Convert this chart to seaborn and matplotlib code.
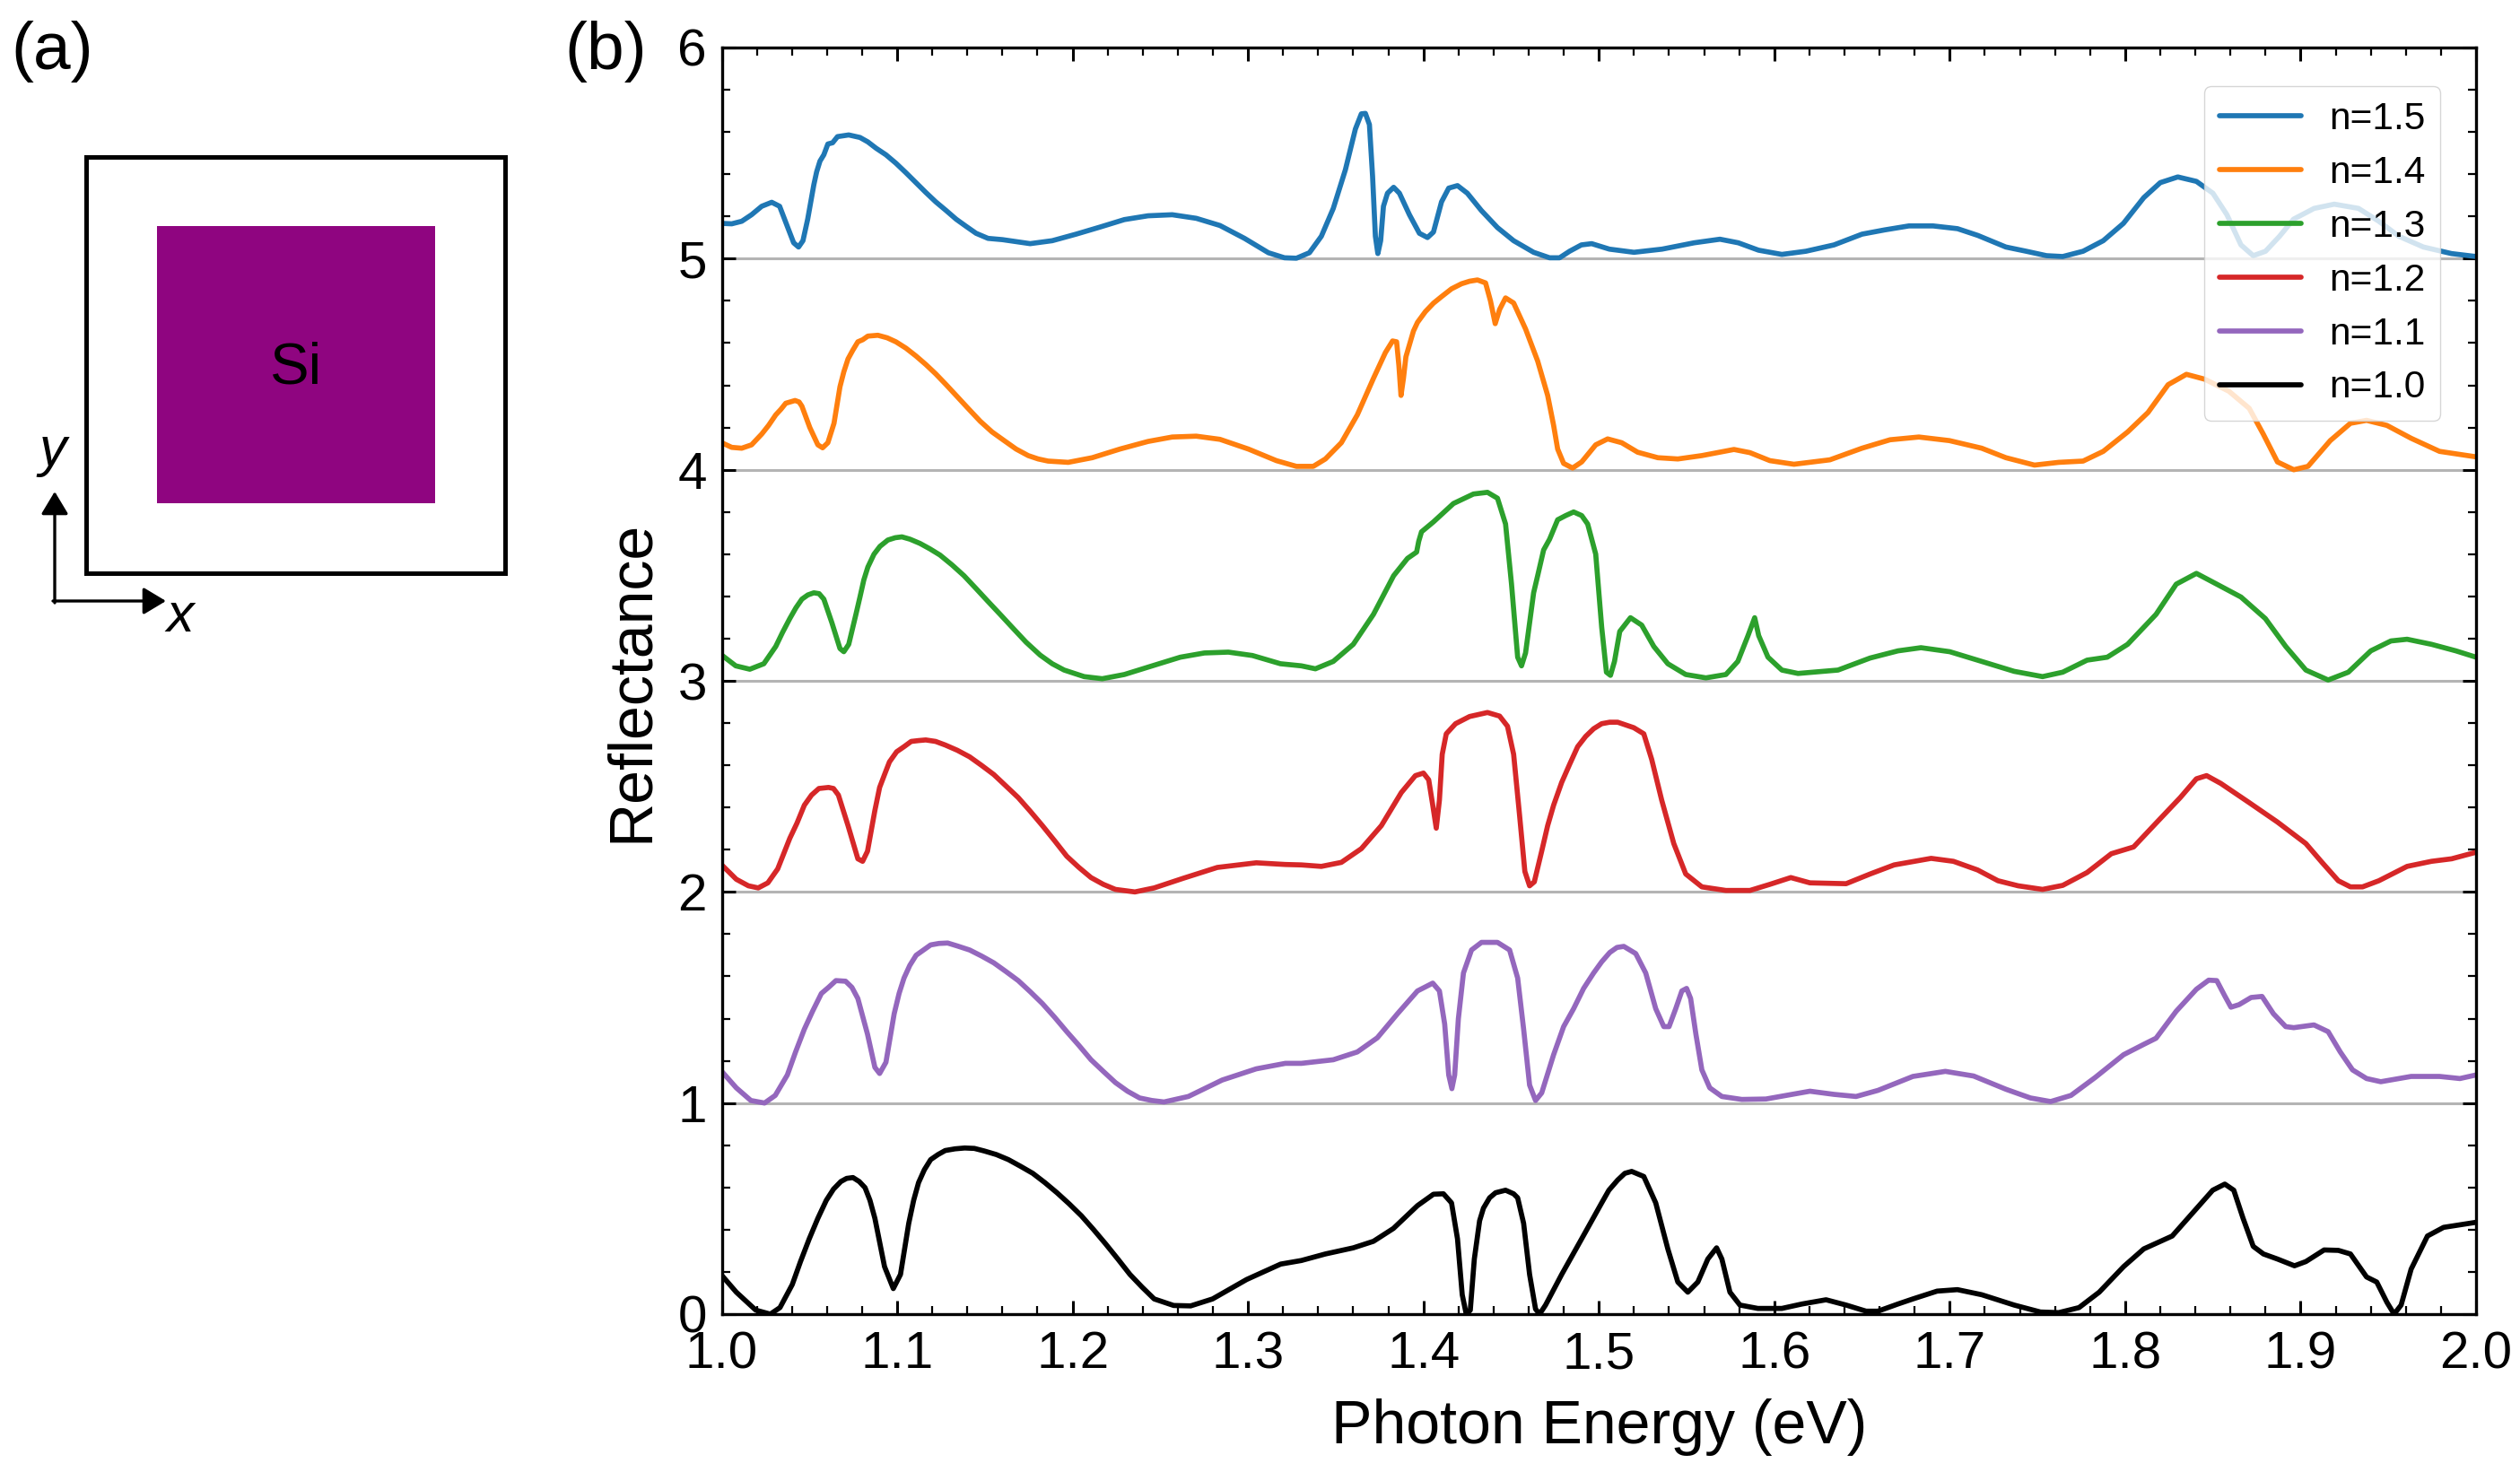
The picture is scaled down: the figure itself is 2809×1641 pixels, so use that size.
# -*- coding: utf-8 -*-
import matplotlib
matplotlib.use('Agg')
import matplotlib.pyplot as plt
import numpy as np
import pandas as pd
import seaborn as sns
from matplotlib.patches import Rectangle
from matplotlib.ticker import MultipleLocator

# values (curves are stacked, offset by 1 each)
e15 = [1.0, 1.0057, 1.0114, 1.017, 1.0228, 1.0285, 1.033, 1.0377, 1.041, 1.0438, 1.0463, 1.049, 1.0525, 1.056,
       1.0605, 1.066, 1.0724, 1.0788, 1.088, 1.0993, 1.1107, 1.122, 1.1336, 1.145, 1.16, 1.1758, 1.1884, 1.202,
       1.2158, 1.2295, 1.243, 1.2568, 1.2705, 1.284, 1.298, 1.3116, 1.3208, 1.3276, 1.335, 1.3418, 1.3486, 1.3555,
       1.3612, 1.3646, 1.3669, 1.3692, 1.371, 1.3726, 1.374, 1.3756, 1.3772, 1.3795, 1.383, 1.3863, 1.392, 1.3977,
       1.4023, 1.4057, 1.4103, 1.4144, 1.4194, 1.425, 1.433, 1.4422, 1.4514, 1.4628, 1.4719, 1.4776, 1.4833, 1.49,
       1.4959, 1.506, 1.52, 1.536, 1.5543, 1.569, 1.5795, 1.591, 1.6043, 1.618, 1.634, 1.65, 1.6628, 1.6767,
       1.6905, 1.7044, 1.716, 1.732, 1.7436, 1.7552, 1.7644, 1.776, 1.7875, 1.799, 1.8106, 1.82, 1.83, 1.8406,
       1.85, 1.858, 1.866, 1.873, 1.88, 1.888, 1.896, 1.9077, 1.9192, 1.933, 1.9446, 1.956, 1.97, 1.986, 2.0,
       1.0541, 1.0582, 1.0632, 1.0692, 1.0833, 1.0936, 1.105, 1.1164, 1.1279, 1.1393, 1.1518]
r15 = [5.167, 5.165, 5.177, 5.208, 5.248, 5.267, 5.248, 5.146, 5.075, 5.055, 5.085, 5.187, 5.35, 5.462,
       5.543, 5.578, 5.586, 5.574, 5.523, 5.452, 5.36, 5.269, 5.187, 5.12, 5.09, 5.071, 5.085, 5.116,
       5.15, 5.185, 5.203, 5.208, 5.191, 5.157, 5.096, 5.028, 5.004, 5.002, 5.028, 5.106, 5.238, 5.421,
       5.614, 5.686, 5.688, 5.635, 5.39, 5.106, 5.024, 5.085, 5.248, 5.31, 5.338, 5.31, 5.208, 5.12,
       5.1, 5.126, 5.269, 5.334, 5.346, 5.31, 5.228, 5.147, 5.085, 5.03, 5.004, 5.004, 5.035, 5.065,
       5.071, 5.045, 5.03, 5.045, 5.075, 5.092, 5.075, 5.04, 5.02, 5.035, 5.065, 5.116, 5.136, 5.155,
       5.155, 5.142, 5.11, 5.055, 5.035, 5.014, 5.01, 5.035, 5.085, 5.167, 5.289, 5.36, 5.387, 5.366,
       5.31, 5.208, 5.065, 5.014, 5.035, 5.106, 5.187, 5.238, 5.258, 5.238, 5.177, 5.106, 5.055, 5.024, 5.01,
       5.411, 5.492, 5.549, 5.582, 5.553, 5.492, 5.407, 5.313, 5.228, 5.153, 5.096]

e14 = [1.0, 1.0057, 1.0114, 1.017, 1.0228, 1.0308, 1.0365, 1.0418, 1.0457, 1.0502, 1.0548, 1.0575, 1.0605, 1.064,
       1.0674, 1.072, 1.0776, 1.0833, 1.089, 1.0993, 1.1107, 1.122, 1.1336, 1.1473, 1.161, 1.1747, 1.186, 1.1975,
       1.2112, 1.227, 1.243, 1.2568, 1.2705, 1.284, 1.3002, 1.3162, 1.3276, 1.3372, 1.3441, 1.3532, 1.3623, 1.3715,
       1.3783, 1.3824, 1.3847, 1.386, 1.3872, 1.3886, 1.39, 1.3943, 1.4011, 1.4103, 1.4217, 1.4308, 1.4354, 1.4382,
       1.4409, 1.4434, 1.4468, 1.4514, 1.4582, 1.4651, 1.4708, 1.4742, 1.4765, 1.4799, 1.485, 1.4902, 1.4982, 1.505,
       1.513, 1.5221, 1.5336, 1.545, 1.5587, 1.577, 1.5861, 1.5975, 1.6112, 1.6317, 1.65, 1.666, 1.6824, 1.6998,
       1.7182, 1.732, 1.7483, 1.7621, 1.776, 1.7875, 1.8014, 1.813, 1.8245, 1.8349, 1.8453, 1.8591, 1.8707, 1.8787,
       1.8868, 1.8961, 1.9042, 1.9169, 1.9284, 1.9376, 1.9492, 1.963, 1.9792, 2.0,
       1.0267, 1.0338, 1.0441, 1.0662, 1.0696, 1.0747, 1.0804, 1.0943, 1.105, 1.1164, 1.1279, 1.1404, 1.1541, 1.1678,
       1.1804, 1.3966, 1.4057, 1.416, 1.4263]
r14 = [4.128, 4.106, 4.102, 4.118, 4.169, 4.26, 4.315, 4.328, 4.301, 4.2, 4.118, 4.104, 4.128, 4.22,
       4.393, 4.525, 4.606, 4.633, 4.637, 4.606, 4.539, 4.454, 4.352, 4.23, 4.138, 4.067, 4.041, 4.035,
       4.057, 4.098, 4.134, 4.155, 4.159, 4.144, 4.098, 4.043, 4.016, 4.016, 4.051, 4.128, 4.26, 4.433,
       4.555, 4.61, 4.606, 4.494, 4.352, 4.433, 4.535, 4.657, 4.749, 4.82, 4.881, 4.899, 4.885, 4.8,
       4.692, 4.759, 4.814, 4.79, 4.667, 4.515, 4.352, 4.21, 4.098, 4.03, 4.008, 4.037, 4.118, 4.146,
       4.128, 4.083, 4.057, 4.051, 4.067, 4.096, 4.081, 4.043, 4.026, 4.047, 4.102, 4.142, 4.155, 4.138,
       4.102, 4.057, 4.022, 4.035, 4.041, 4.087, 4.179, 4.271, 4.403, 4.452, 4.429, 4.372, 4.291, 4.169,
       4.037, 4.0, 4.016, 4.138, 4.22, 4.234, 4.21, 4.149, 4.087, 4.061,
       4.21, 4.287, 4.321, 4.332, 4.464, 4.566, 4.616, 4.625, 4.576, 4.498, 4.403, 4.291, 4.179, 4.098,
       4.051, 4.698, 4.789, 4.857, 4.893]

e13 = [1.0, 1.008, 1.016, 1.024, 1.0308, 1.0388, 1.0457, 1.0525, 1.0582, 1.0628, 1.0674, 1.0696, 1.0724, 1.0765,
       1.081, 1.0868, 1.0947, 1.1027, 1.113, 1.1244, 1.1381, 1.1518, 1.1655, 1.1815, 1.1952, 1.2066, 1.2169, 1.2295,
       1.2454, 1.2614, 1.2751, 1.2888, 1.3025, 1.3185, 1.3304, 1.3384, 1.3486, 1.36, 1.3715, 1.383, 1.3909, 1.3961,
       1.3973, 1.3989, 1.4057, 1.4171, 1.4285, 1.4365, 1.4422, 1.4468, 1.4502, 1.4537, 1.4559, 1.4582, 1.4628, 1.4685,
       1.4765, 1.4856, 1.4936, 1.4982, 1.5016, 1.5043, 1.5066, 1.5089, 1.5119, 1.518, 1.5244, 1.5313, 1.5393, 1.5495,
       1.561, 1.5724, 1.5792, 1.585, 1.5888, 1.5911, 1.5964, 1.6043, 1.6135, 1.6363, 1.6546, 1.6705, 1.6836, 1.7,
       1.7182, 1.7367, 1.7529, 1.7644, 1.7783, 1.7898, 1.8014, 1.8176, 1.8291, 1.8406, 1.8522, 1.866, 1.8799, 1.8915,
       1.903, 1.9157, 1.9272, 1.94, 1.9515, 1.9607, 1.9746, 1.9885, 2.0,
       1.0347, 1.0423, 1.0491, 1.0555, 1.0788, 1.0833, 1.0902, 1.0989, 1.1073, 1.1187, 1.1313, 1.145, 1.1587, 1.1735,
       1.1884, 1.4651, 1.4719, 1.4811, 1.4902]
r13 = [3.122, 3.071, 3.055, 3.081, 3.163, 3.295, 3.387, 3.417, 3.387, 3.275, 3.153, 3.138, 3.173, 3.315,
       3.478, 3.6, 3.667, 3.682, 3.651, 3.596, 3.498, 3.376, 3.254, 3.122, 3.051, 3.02, 3.01, 3.03,
       3.071, 3.112, 3.132, 3.136, 3.12, 3.081, 3.071, 3.057, 3.092, 3.173, 3.315, 3.498, 3.58, 3.61,
       3.661, 3.706, 3.753, 3.84, 3.885, 3.893, 3.865, 3.743, 3.458, 3.112, 3.071, 3.132, 3.417, 3.62,
       3.763, 3.8, 3.743, 3.6, 3.254, 3.041, 3.026, 3.092, 3.234, 3.299, 3.264, 3.163, 3.081, 3.03,
       3.014, 3.03, 3.092, 3.214, 3.299, 3.214, 3.112, 3.051, 3.035, 3.051, 3.108, 3.142, 3.157, 3.138,
       3.092, 3.045, 3.02, 3.041, 3.098, 3.112, 3.173, 3.315, 3.458, 3.509, 3.458, 3.397, 3.295, 3.163,
       3.051, 3.004, 3.041, 3.142, 3.189, 3.197, 3.173, 3.142, 3.112,
       3.23, 3.346, 3.407, 3.413, 3.397, 3.539, 3.637, 3.678, 3.671, 3.625, 3.549, 3.437, 3.315, 3.183,
       3.081, 3.498, 3.671, 3.783, 3.783]

e12 = [1.0, 1.0083, 1.0152, 1.0208, 1.0263, 1.0319, 1.0388, 1.0471, 1.0554, 1.0609, 1.0665, 1.072, 1.0776, 1.0803,
       1.0831, 1.0873, 1.0928, 1.0997, 1.108, 1.1163, 1.1274, 1.1413, 1.1551, 1.169, 1.1828, 1.1967, 1.2105, 1.2244,
       1.2355, 1.2465, 1.2632, 1.2825, 1.3047, 1.3213, 1.3304, 1.3418, 1.3532, 1.3646, 1.376, 1.3874, 1.3954, 1.4,
       1.403, 1.4053, 1.4073, 1.4091, 1.4107, 1.413, 1.4183, 1.4263, 1.4365, 1.4434, 1.4479, 1.4514, 1.4548, 1.4578,
       1.4605, 1.4632, 1.4674, 1.4742, 1.4833, 1.4925, 1.5016, 1.5107, 1.5199, 1.5256, 1.5301, 1.5358, 1.5427, 1.5495,
       1.5587, 1.5724, 1.5861, 1.5975, 1.6094, 1.6203, 1.6409, 1.6546, 1.6683, 1.6894, 1.7021, 1.7159, 1.7275, 1.739,
       1.7529, 1.7644, 1.7783, 1.7921, 1.8048, 1.8176, 1.8314, 1.8406, 1.8464, 1.8545, 1.8707, 1.8868, 1.903, 1.9122,
       1.9215, 1.9284, 1.9353, 1.9446, 1.9607, 1.9746, 1.9861, 2.0,
       1.0429, 1.0512, 1.0637, 1.09, 1.0956, 1.1039, 1.1122, 1.1219, 1.1343, 1.1482, 1.162, 1.1759, 1.1898, 1.2036,
       1.2175, 1.4708, 1.4788, 1.4879, 1.497, 1.5062]
r12 = [2.128, 2.06, 2.029, 2.019, 2.043, 2.109, 2.254, 2.411, 2.49, 2.495, 2.459, 2.314, 2.157, 2.145,
       2.193, 2.386, 2.556, 2.664, 2.713, 2.72, 2.696, 2.64, 2.556, 2.447, 2.314, 2.169, 2.068, 2.012,
       2.0, 2.019, 2.065, 2.116, 2.138, 2.13, 2.128, 2.121, 2.14, 2.205, 2.314, 2.471, 2.551, 2.563,
       2.531, 2.411, 2.302, 2.435, 2.652, 2.749, 2.797, 2.831, 2.85, 2.833, 2.785, 2.652, 2.362, 2.097,
       2.029, 2.048, 2.193, 2.411, 2.604, 2.737, 2.797, 2.804, 2.778, 2.749, 2.628, 2.435, 2.229, 2.085,
       2.024, 2.007, 2.007, 2.036, 2.068, 2.043, 2.039, 2.085, 2.128, 2.159, 2.145, 2.104, 2.053, 2.029,
       2.012, 2.031, 2.092, 2.181, 2.213, 2.326, 2.447, 2.536, 2.551, 2.514, 2.423, 2.331, 2.229, 2.14,
       2.053, 2.024, 2.024, 2.053, 2.121, 2.145, 2.157, 2.188,
       2.326, 2.459, 2.49, 2.495, 2.616, 2.688, 2.717, 2.713, 2.671, 2.599, 2.502, 2.382, 2.242, 2.116,
       2.036, 2.314, 2.519, 2.688, 2.773, 2.804]

e11 = [1.0, 1.0083, 1.0166, 1.0244, 1.0305, 1.0374, 1.0471, 1.0568, 1.0651, 1.0706, 1.0776, 1.0831, 1.0873, 1.09,
       1.0936, 1.0983, 1.1039, 1.1108, 1.1191, 1.1288, 1.1413, 1.1551, 1.169, 1.1828, 1.1967, 1.2105, 1.2244, 1.2382,
       1.2521, 1.266, 1.2853, 1.3047, 1.3213, 1.3304, 1.3486, 1.3623, 1.3737, 1.3852, 1.3966, 1.4053, 1.4091, 1.4121,
       1.4144, 1.4162, 1.4178, 1.4199, 1.4228, 1.4274, 1.4331, 1.4422, 1.4491, 1.4537, 1.4571, 1.4605, 1.4639, 1.4674,
       1.4742, 1.4856, 1.497, 1.5062, 1.5142, 1.521, 1.5267, 1.5324, 1.537, 1.54, 1.5438, 1.5473, 1.55, 1.5523,
       1.5553, 1.5587, 1.5632, 1.5701, 1.5815, 1.5952, 1.6066, 1.6203, 1.634, 1.6466, 1.6591, 1.679, 1.6975, 1.7136,
       1.7321, 1.746, 1.7575, 1.7691, 1.7829, 1.7991, 1.8106, 1.8176, 1.8291, 1.8406, 1.8476, 1.8522, 1.8568, 1.8603,
       1.8649, 1.8718, 1.878, 1.8845, 1.8915, 1.8961, 1.9076, 1.9157, 1.9226, 1.9296, 1.9376, 1.9457, 1.963, 1.9792,
       1.9908, 2.0,
       1.0421, 1.0518, 1.0609, 1.0742, 1.1011, 1.1072, 1.115, 1.1238, 1.1343, 1.1482, 1.162, 1.1759, 1.1898, 1.2036,
       1.2175, 1.2313, 1.2452, 1.4799, 1.4913, 1.5016, 1.5103]
r11 = [1.15, 1.072, 1.012, 1.0, 1.036, 1.133, 1.35, 1.519, 1.58, 1.577, 1.495, 1.326, 1.169, 1.14,
       1.193, 1.423, 1.592, 1.7, 1.749, 1.758, 1.725, 1.664, 1.58, 1.471, 1.338, 1.205, 1.097, 1.024,
       1.005, 1.031, 1.109, 1.162, 1.188, 1.188, 1.205, 1.242, 1.309, 1.423, 1.531, 1.568, 1.531, 1.374,
       1.133, 1.068, 1.133, 1.399, 1.616, 1.725, 1.761, 1.761, 1.725, 1.592, 1.35, 1.085, 1.012, 1.048,
       1.229, 1.447, 1.616, 1.713, 1.742, 1.708, 1.616, 1.447, 1.362, 1.362, 1.447, 1.531, 1.543, 1.495,
       1.326, 1.157, 1.072, 1.031, 1.017, 1.019, 1.036, 1.056, 1.041, 1.031, 1.06, 1.126, 1.15, 1.128,
       1.065, 1.024, 1.007, 1.036, 1.121, 1.229, 1.278, 1.307, 1.435, 1.539, 1.582, 1.58, 1.507, 1.454,
       1.466, 1.5, 1.505, 1.423, 1.362, 1.357, 1.37, 1.338, 1.242, 1.157, 1.116, 1.101, 1.126, 1.126,
       1.116, 1.133,
       1.242, 1.435, 1.548, 1.548, 1.519, 1.652, 1.725, 1.756, 1.744, 1.696, 1.623, 1.527, 1.406, 1.273,
       1.15, 1.056, 1.012, 1.362, 1.543, 1.669, 1.737]

e10 = [1.0, 1.0083, 1.0194, 1.0277, 1.0332, 1.0402, 1.0499, 1.0596, 1.0679, 1.0748, 1.0817, 1.0873, 1.0928, 1.0978,
       1.1019, 1.1066, 1.1122, 1.1191, 1.1274, 1.1385, 1.1496, 1.1634, 1.1773, 1.1911, 1.205, 1.2188, 1.2327, 1.2465,
       1.2576, 1.2673, 1.2798, 1.2992, 1.3186, 1.3304, 1.3441, 1.36, 1.3715, 1.3829, 1.3966, 1.4057, 1.4114, 1.416,
       1.4194, 1.4221, 1.4244, 1.4267, 1.429, 1.432, 1.4377, 1.4468, 1.4537, 1.4571, 1.4605, 1.4639, 1.4662, 1.4696,
       1.4788, 1.4902, 1.5016, 1.5107, 1.5187, 1.5256, 1.5324, 1.5393, 1.545, 1.5507, 1.5564, 1.5621, 1.5671, 1.5701,
       1.5747, 1.5804, 1.5906, 1.6043, 1.6158, 1.6295, 1.6409, 1.6523, 1.6591, 1.6705, 1.679, 1.6928, 1.7044, 1.7182,
       1.7367, 1.7517, 1.7621, 1.7737, 1.7852, 1.7991, 1.8106, 1.8268, 1.8383, 1.8499, 1.8568, 1.8619, 1.8672, 1.873,
       1.8788, 1.8868, 1.8965, 1.903, 1.9134, 1.9215, 1.9284, 1.9376, 1.9434, 1.9492, 1.9533, 1.9573, 1.963, 1.9723,
       1.9815, 2.0,
       1.0449, 1.0548, 1.0637, 1.0712, 1.0784, 1.0845, 1.1094, 1.1155, 1.1233, 1.133, 1.144, 1.1565, 1.1704, 1.1842,
       1.1981, 1.2119, 1.2258, 1.2396, 1.4342, 1.4411, 1.4514, 1.5057, 1.5148, 1.5221]
r10 = [0.184, 0.104, 0.019, 0.0, 0.031, 0.14, 0.357, 0.539, 0.628, 0.647, 0.599, 0.454, 0.225, 0.121,
       0.188, 0.43, 0.623, 0.732, 0.775, 0.787, 0.773, 0.732, 0.667, 0.575, 0.466, 0.333, 0.188, 0.072,
       0.041, 0.039, 0.072, 0.164, 0.237, 0.254, 0.285, 0.314, 0.345, 0.406, 0.514, 0.568, 0.57, 0.527,
       0.357, 0.092, 0.0, 0.019, 0.261, 0.442, 0.551, 0.587, 0.551, 0.43, 0.188, 0.024, 0.0, 0.043,
       0.188, 0.357, 0.527, 0.635, 0.676, 0.652, 0.527, 0.309, 0.152, 0.104, 0.152, 0.261, 0.314, 0.261,
       0.104, 0.043, 0.027, 0.027, 0.048, 0.068, 0.043, 0.014, 0.014, 0.048, 0.072, 0.109, 0.116, 0.092,
       0.043, 0.01, 0.007, 0.031, 0.104, 0.225, 0.309, 0.37, 0.478, 0.587, 0.616, 0.587, 0.454, 0.321,
       0.285, 0.261, 0.229, 0.249, 0.304, 0.302, 0.285, 0.176, 0.152, 0.056, 0.0, 0.043, 0.213, 0.37,
       0.411, 0.435,
       0.249, 0.454, 0.592, 0.643, 0.628, 0.539, 0.539, 0.684, 0.756, 0.783, 0.785, 0.756, 0.7, 0.623,
       0.522, 0.401, 0.261, 0.128, 0.502, 0.575, 0.57, 0.587, 0.667, 0.664]

labels = ['n=1.5', 'n=1.4', 'n=1.3', 'n=1.2', 'n=1.1', 'n=1.0']
colors = ['#1f77b4', '#ff7f0e', '#2ca02c', '#d62728', '#9467bd', '#000000']
energies = [e15, e14, e13, e12, e11, e10]
reflect = [r15, r14, r13, r12, r11, r10]

df = pd.concat([pd.DataFrame({'energy': e, 'refl': r, 'curve': l})
                for e, r, l in zip(energies, reflect, labels)], ignore_index=True)

sns.set_style('white')
plt.rcParams['font.family'] = ['Liberation Sans', 'DejaVu Sans']
plt.rcParams['text.color'] = 'black'
plt.rcParams['axes.labelcolor'] = 'black'
plt.rcParams['xtick.labelcolor'] = 'black'
plt.rcParams['ytick.labelcolor'] = 'black'

W, H = 2809, 1641
fig = plt.figure(figsize=(W / 100, H / 100), dpi=100)

# panel (a) is drawn on a full figure axes in pixel units
bg = fig.add_axes([0, 0, 1, 1])
bg.set_xlim(0, W)
bg.set_ylim(H, 0)
bg.axis('off')
bg.add_patch(Rectangle((96, 175), 467, 464, fill=False, ec='black', lw=3.6))
bg.add_patch(Rectangle((175, 252), 310, 309, fc='#8f0580', ec='none'))
bg.text(330, 410, 'Si', fontsize=47, ha='center', va='center', color='black')
arrow = dict(arrowstyle='-|>,head_length=0.55,head_width=0.33', color='black', lw=2.4,
             shrinkA=0, shrinkB=0, mutation_scale=28)
bg.annotate('', xy=(61, 548), xytext=(61, 672), arrowprops=arrow)
bg.annotate('', xy=(185, 670), xytext=(59, 670), arrowprops=arrow)
bg.text(59, 504, 'y', fontsize=44, style='italic', ha='center', va='center')
bg.text(201, 688, 'x', fontsize=44, style='italic', ha='center', va='center')
bg.text(58, 58, '(a)', fontsize=54, ha='center', va='center')
bg.text(675, 58, '(b)', fontsize=54, ha='center', va='center')

# panel (b)
left, right, top, bottom = 804.5, 2760, 53, 1465
ax = fig.add_axes([left / W, 1 - bottom / H, (right - left) / W, (bottom - top) / H])
ax.patch.set_alpha(0)

ax.grid(True, axis='y', which='major', color='#b4b4b4', lw=2.2, zorder=0)
ax.set_axisbelow(True)
sns.lineplot(data=df, x='energy', y='refl', hue='curve', hue_order=labels, palette=colors,
             estimator=None, errorbar=None, lw=4.1, ax=ax, legend=True, solid_joinstyle='round')

ax.set_xlim(1.0, 2.0)
ax.set_ylim(0, 6)
ax.xaxis.set_major_locator(MultipleLocator(0.1))
ax.xaxis.set_minor_locator(MultipleLocator(0.02))
ax.yaxis.set_major_locator(MultipleLocator(1))
ax.yaxis.set_minor_locator(MultipleLocator(0.2))
ax.tick_params(which='major', direction='in', top=True, right=True, bottom=True, left=True,
               length=11, width=2.2, labelsize=42, pad=13, color='black')
ax.tick_params(which='minor', direction='in', top=True, right=True, bottom=True, left=True,
               length=6.5, width=1.6, color='black')
ax.tick_params(axis='y', which='major', pad=12)
for s in ax.spines.values():
    s.set_linewidth(2.4)
    s.set_color('black')

ax.set_xlabel('Photon Energy (eV)', fontsize=49, labelpad=16)
ax.set_ylabel('Reflectance', fontsize=49, labelpad=14)

handles, labs = ax.get_legend_handles_labels()
leg = ax.legend(handles, labs, loc='upper left', bbox_to_anchor=((2457 - left) / (right - left), 1 - (96 - top) / (bottom - top)),
                borderaxespad=0, fontsize=30.5, frameon=True, framealpha=0.8, edgecolor='0.8', facecolor='white',
                handlelength=2.15, labelspacing=0.47, handletextpad=0.73, borderpad=0.4, title=None)
for line in leg.get_lines():
    line.set_linewidth(4.1)

fig.savefig('out.png', dpi=100)
